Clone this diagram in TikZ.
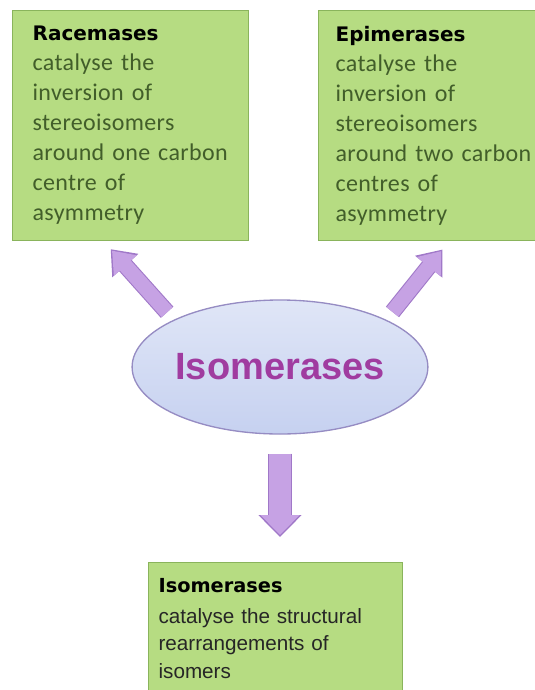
\documentclass[tikz,border=0pt]{standalone}
\usepackage{fontspec}
\setmainfont[LetterSpace=1.5,WordSpace=0.6]{Carlito}
\newfontfamily\headfont{DejaVu Sans}
\newfontfamily\lowfont{Liberation Sans}
\usetikzlibrary{shapes.geometric,arrows.meta,calc}
\hyphenpenalty=10000
\definecolor{boxgreen}{RGB}{182,220,130}
\definecolor{boxedge}{RGB}{138,180,92}
\definecolor{bodygreen}{RGB}{66,94,42}
\definecolor{ovalblue}{RGB}{198,209,240}
\definecolor{ovaledge}{RGB}{150,140,195}
\definecolor{isopurple}{RGB}{160,60,160}
\definecolor{arrowfill}{RGB}{198,162,228}
\definecolor{arrowedge}{RGB}{160,120,200}
\begin{document}
\begin{tikzpicture}[x=0.75pt,y=-0.75pt,
  enzbox/.style={draw=boxedge,fill=boxgreen,line width=0.9pt,anchor=north west,align=left,
    inner ysep=0pt,font=\fontsize{18}{22.5}\selectfont,text=bodygreen},
  topbox/.style={enzbox,minimum width=177pt,minimum height=172.5pt},
  lowbox/.style={enzbox,minimum width=190.5pt,minimum height=98.25pt,inner xsep=7.5pt,
    text width=175.5pt,font=\lowfont\fontsize{15.5}{20.5}\selectfont,text=black!85},
  oval/.style={ellipse,draw=ovaledge,line width=1pt,top color=ovalblue!55!white,bottom color=ovalblue,
    minimum width=220.5pt,minimum height=100.5pt,inner sep=0pt,
    font=\lowfont\bfseries\fontsize{28.5}{30}\selectfont,text=isopurple}]
\useasboundingbox (0,0) rectangle (535,690);
\fill [white] (0,0) rectangle (535,690);
\node [topbox,inner xsep=15pt,text width=147pt] (race) at (12,10)
  {{\headfont\bfseries\fontsize{15}{22.5}\selectfont\textcolor{black}{Racemases}}\\
   catalyse the\\inversion of\\stereoisomers\\around one carbon\\centre of\\asymmetry};
\node [topbox,inner xsep=12.75pt,text width=151.5pt] (epi) at (318,10)
  {{\headfont\bfseries\fontsize{15}{22.5}\selectfont\textcolor{black}{Epimerases}}\\
   catalyse the\\inversion of\\stereoisomers\\around two carbon\\centres of\\asymmetry};
\node [oval] (iso) at (280,367) {Isomerases};
\node [lowbox] (low) at (148,562)
  {{\headfont\bfseries\fontsize{14.5}{20}\selectfont\textcolor{black}{Isomerases}}\\[3pt]
   catalyse the structural\\rearrangements of\\isomers};
\foreach \lw/\col/\tl/\sh in {12.6/arrowedge/16.5/0, 11/arrowfill/15/1.5} {
  \draw [line width=\lw pt,draw=\col,-{Triangle[width=0pt 2,length=\tl pt]},
    shorten <=7.5pt,shorten >=8pt+\sh pt]
    (iso.156) -- ($(race.south west)!0.386!(race.south east)$);
  \draw [line width=\lw pt,draw=\col,-{Triangle[width=0pt 2,length=\tl pt]},
    shorten <=7.5pt,shorten >=8pt+\sh pt]
    (iso.24) -- ($(epi.south west)!0.553!(epi.south east)$);
}
\foreach \lw/\col/\tl/\sh/\hw in {18/arrowedge/16.5/0/31.5, 16.5/arrowfill/15/1.5/28.5} {
  \draw [line width=\lw pt,draw=\col,-{Triangle[width=\hw pt,length=\tl pt]},
    shorten <=14.25pt,shorten >=18.75pt+\sh pt]
    (iso.south) -- (iso.south |- low.north);
}
\end{tikzpicture}
\end{document}
